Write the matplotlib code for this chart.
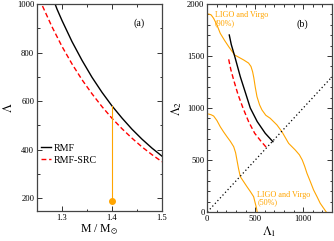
import matplotlib
matplotlib.use("Agg")
import matplotlib.pyplot as plt
from matplotlib.ticker import MultipleLocator

plt.rcParams['font.family'] = ['Liberation Serif', 'DejaVu Serif']
plt.rcParams['mathtext.fontset'] = 'stix'

# Panel (a): Lambda vs M
m_rmf = [1.27, 1.28, 1.29, 1.30, 1.32, 1.34, 1.36, 1.38, 1.40, 1.42, 1.44, 1.46, 1.48, 1.50]
lam_rmf = [1082, 1034, 979, 932, 845, 768, 698, 636, 580, 530, 484, 443, 406, 373]
m_src = [1.25, 1.26, 1.28, 1.30, 1.32, 1.34, 1.36, 1.38, 1.40, 1.42, 1.44, 1.46, 1.48, 1.50]
lam_src = [1044, 996, 906, 825, 753, 688, 630, 577, 529, 486, 447, 411, 379, 350]
m_obs = 1.4
lam_obs_low = 190
lam_obs_high = 580

# Panel (b): Lambda2 vs Lambda1
l1_rmf = [229, 250, 285, 344, 400, 448, 520, 604, 684]
l2_rmf = [1702, 1610, 1500, 1301, 1140, 1000, 870, 757, 676]
l1_src = [223, 245, 275, 320, 372, 430, 494, 560, 615]
l2_src = [1468, 1370, 1269, 1130, 1000, 870, 757, 680, 622]
l1_90 = [14, 40, 66, 100, 135, 180, 223, 285, 379, 430, 455, 472, 485, 500, 518, 545, 570, 610, 656, 726, 778, 848, 917, 960, 990, 1015, 1039, 1075, 1108, 1145, 1177, 1210, 1240]
l2_90 = [1904, 1895, 1862, 1800, 1718, 1650, 1590, 1510, 1462, 1432, 1400, 1350, 1290, 1200, 1109, 1030, 981, 930, 901, 837, 772, 660, 596, 550, 500, 440, 372, 290, 212, 145, 84, 40, 0]
l1_50 = [14, 40, 66, 100, 135, 170, 205, 240, 275, 295, 309, 325, 344, 380, 413, 450, 483, 500, 512, 520]
l2_50 = [942, 935, 923, 880, 820, 770, 724, 680, 628, 570, 500, 420, 340, 290, 244, 195, 147, 84, 40, 0]
diag = [0, 1300]

orange = '#FFA500'

fig = plt.figure(figsize=(3.34, 2.41), dpi=100)
axa = fig.add_axes([37/334, 1-211/241, 125/334, 207/241])
axb = fig.add_axes([207.3/334, 1-212/241, 124.7/334, 208/241])

for ax in (axa, axb):
    ax.tick_params(which='both', direction='in', top=True, right=True, labelsize=6.2, pad=2, width=0.7, color='#333333')
    ax.tick_params(which='major', length=3.6)
    ax.tick_params(which='minor', length=1.8)
    for s in ax.spines.values():
        s.set_linewidth(0.9)
        s.set_color('#444444')

# Panel a
axa.plot(m_rmf, lam_rmf, color='black', lw=1.0, label='RMF')
axa.plot(m_src, lam_src, color='red', lw=1.0, ls=(0, (3.5, 2)), label='RMF-SRC')
axa.plot([m_obs, m_obs], [lam_obs_low, lam_obs_high], color=orange, lw=0.8)
axa.plot([m_obs], [lam_obs_low], 'o', color=orange, ms=4)
axa.set_xlim(1.25, 1.5)
axa.set_ylim(147, 1000)
axa.xaxis.set_major_locator(MultipleLocator(0.1))
axa.xaxis.set_minor_locator(MultipleLocator(0.05))
axa.yaxis.set_major_locator(MultipleLocator(200))
axa.yaxis.set_minor_locator(MultipleLocator(100))
axa.set_xlabel(r'M / M$_{\odot}$', fontsize=8.5, labelpad=1)
axa.set_ylabel(r'$\Lambda$', fontsize=9, labelpad=1.5)
axa.text(0.82, 0.905, '(a)', transform=axa.transAxes, fontsize=7.2, ha='center', va='center')
axa.legend(loc='center left', bbox_to_anchor=(0.0, 0.275), frameon=False, fontsize=7.2,
           handlelength=1.0, handletextpad=0.3, labelspacing=0.3, borderaxespad=0)

# Panel b
axb.plot(l1_90, l2_90, color=orange, lw=0.8)
axb.plot(l1_50, l2_50, color=orange, lw=0.8)
axb.plot(diag, diag, color='black', lw=0.9, ls=(0, (1, 2)))
axb.plot(l1_rmf, l2_rmf, color='black', lw=1.0)
axb.plot(l1_src, l2_src, color='red', lw=1.0, ls=(0, (3.5, 2)))
axb.set_xlim(0, 1300)
axb.set_ylim(0, 2000)
axb.xaxis.set_major_locator(MultipleLocator(500))
axb.xaxis.set_minor_locator(MultipleLocator(100))
axb.yaxis.set_major_locator(MultipleLocator(500))
axb.yaxis.set_minor_locator(MultipleLocator(100))
axb.set_xlabel(r'$\Lambda_1$', fontsize=9, labelpad=1)
axb.set_ylabel(r'$\Lambda_2$', fontsize=9, labelpad=2)
axb.text(0.76, 0.905, '(b)', transform=axb.transAxes, fontsize=7.2, ha='center', va='center')
axb.text(80, 1935, 'LIGO and Virgo\n(90%)', color=orange, fontsize=5.9, ha='left', va='top', linespacing=1.0)
axb.text(520, 205, 'LIGO and Virgo\n(50%)', color=orange, fontsize=5.9, ha='left', va='top', linespacing=1.0)

fig.savefig('out.png', dpi=100)
